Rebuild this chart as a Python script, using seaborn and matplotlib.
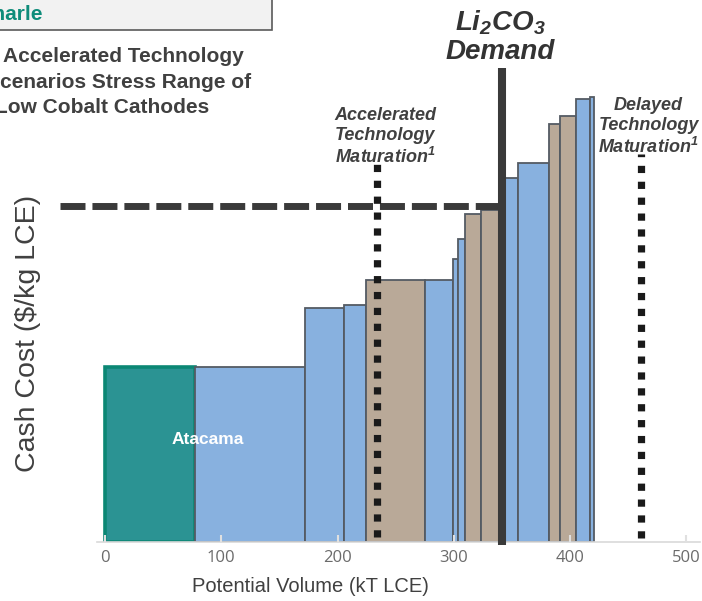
import numpy as np
import seaborn as sns
import matplotlib.pyplot as plt
from matplotlib.patches import Rectangle

# Cost curve data (volume in kT LCE, cash cost in relative units)
volumes = [77, 95, 33.6, 19, 50.8, 23.9, 4.8, 5.8, 13.5, 19.6, 12, 26.7, 10.1, 13.5, 12.4, 2.8]
costs = [175, 175, 234, 237, 262, 262, 283, 303, 328, 332, 364, 379, 418, 426, 443, 445]
kinds = ["atacama", "blue", "blue", "blue", "tan", "blue", "blue", "blue",
         "tan", "tan", "blue", "blue", "tan", "tan", "blue", "blue"]

demand_volume = 341.4
demand_cost = 336
accelerated_volume = 234
delayed_volume = 461
x_ticks = [0, 100, 200, 300, 400, 500]

sns.set_theme(style="white")
plt.rcParams["font.family"] = ["Liberation Sans", "DejaVu Sans"]
plt.rcParams["mathtext.fontset"] = "custom"
plt.rcParams["mathtext.rm"] = "Liberation Sans:italic:bold"
plt.rcParams["mathtext.it"] = "Liberation Sans:italic:bold"
plt.rcParams["mathtext.bf"] = "Liberation Sans:italic:bold"

fill = {"atacama": "#2b9393", "blue": "#88b1df", "tan": "#b9a998"}
edge = {"atacama": "#0b8774", "blue": "#545b63", "tan": "#545b63"}
lwid = {"atacama": 2.6, "blue": 1.3, "tan": 1.3}

fig = plt.figure(figsize=(7.02, 6.01), dpi=100)
ax = fig.add_axes([97 / 702, 59 / 601, 603 / 702, 542 / 601])

lefts = np.concatenate([[0], np.cumsum(volumes)[:-1]])
for left, w, c, k in zip(lefts, volumes, costs, kinds):
    ax.bar(left, c, width=w, align="edge", color=fill[k], edgecolor=edge[k],
           linewidth=lwid[k], zorder=1)

# demand line and cost level
ax.plot([demand_volume, demand_volume], [-3, 474], color="#3a3a3a", lw=5.8,
        solid_capstyle="butt", zorder=4, clip_on=False)
ax.plot([-39, demand_volume - 2], [demand_cost, demand_cost], color="#3a3a3a", lw=5.0,
        ls=(0, (3.6, 1.0)), dash_capstyle="butt", zorder=4, clip_on=False)

# technology scenarios
ax.plot([accelerated_volume, accelerated_volume], [5, 378], color="#1a1a1a", lw=5.2,
        ls=(0, (1, 1.2)), dash_capstyle="butt", zorder=4)
ax.plot([delayed_volume, delayed_volume], [4, 388], color="#1a1a1a", lw=5.2,
        ls=(0, (1, 1.2)), dash_capstyle="butt", zorder=4)

ax.text(340, 505, "Li$_2$CO$_3$\nDemand", ha="center", va="center", fontsize=20,
        fontweight="bold", style="italic", color="#333333", linespacing=1.1, zorder=5)
ax.text(241, 405, "Accelerated\nTechnology\nMaturation$^1$", ha="center", va="center",
        fontsize=13, fontweight="bold", style="italic", color="#404040",
        linespacing=1.2, zorder=5)
ax.text(467.7, 415, "Delayed\nTechnology\nMaturation$^1$", ha="center", va="center",
        fontsize=13, fontweight="bold", style="italic", color="#404040",
        linespacing=1.2, zorder=5)
ax.text(88.4, 102, "Atacama", ha="center", va="center", fontsize=12.5,
        fontweight="bold", color="white", zorder=5)

ax.set_xlim(-7, 512)
ax.set_ylim(0, 542)
ax.set_xticks(x_ticks)
ax.set_yticks([])
ax.set_axisbelow(False)
ax.tick_params(axis="x", direction="in", length=5, width=1.5, color="#e0e0e0",
               labelsize=12, labelcolor="#6b6b6b", pad=6, bottom=True)
for lab in ax.get_xticklabels():
    lab.set_family(["Open Sans", "DejaVu Sans"])
sns.despine(ax=ax, left=True)
ax.spines["bottom"].set_color("#d9d9d9")
ax.spines["bottom"].set_linewidth(1.2)
ax.patch.set_alpha(0)

ax.set_xlabel("Potential Volume (kT LCE)", fontsize=14.5, color="#404040")
ax.xaxis.set_label_coords((310 - 97) / 603, (542 - 587) / 542)
ax.xaxis.label.set_va("center")
ax.set_ylabel("Cash Cost ($/kg LCE)", fontsize=20.5, color="#404040")
ax.yaxis.set_label_coords((28 - 97) / 603, (542 - 333) / 542)
ax.yaxis.label.set_va("center")

# header box and subtitle (cropped at the left edge)
fig.add_artist(Rectangle((-0.05, 1 - 30 / 601), 272 / 702 + 0.05, 0.08,
                         transform=fig.transFigure, fc="#f2f2f2", ec="#5a5a5a", lw=1.2))
fig.text(43 / 702, 1 - 14 / 601, "Albemarle", ha="right", va="center", fontsize=15,
         fontweight="bold", color="#0e8c7a")
subtitle = ["Accelerated Technology", "Scenarios Stress Range of", "Low Cobalt Cathodes"]
sub_x = [3, -14, -5]
sub_y = [57, 82, 107]
for txt, sx, sy in zip(subtitle, sub_x, sub_y):
    fig.text(sx / 702, 1 - sy / 601, txt, ha="left", va="center", fontsize=15,
             fontweight="bold", color="#404040")

plt.savefig("out.png", dpi=100)
